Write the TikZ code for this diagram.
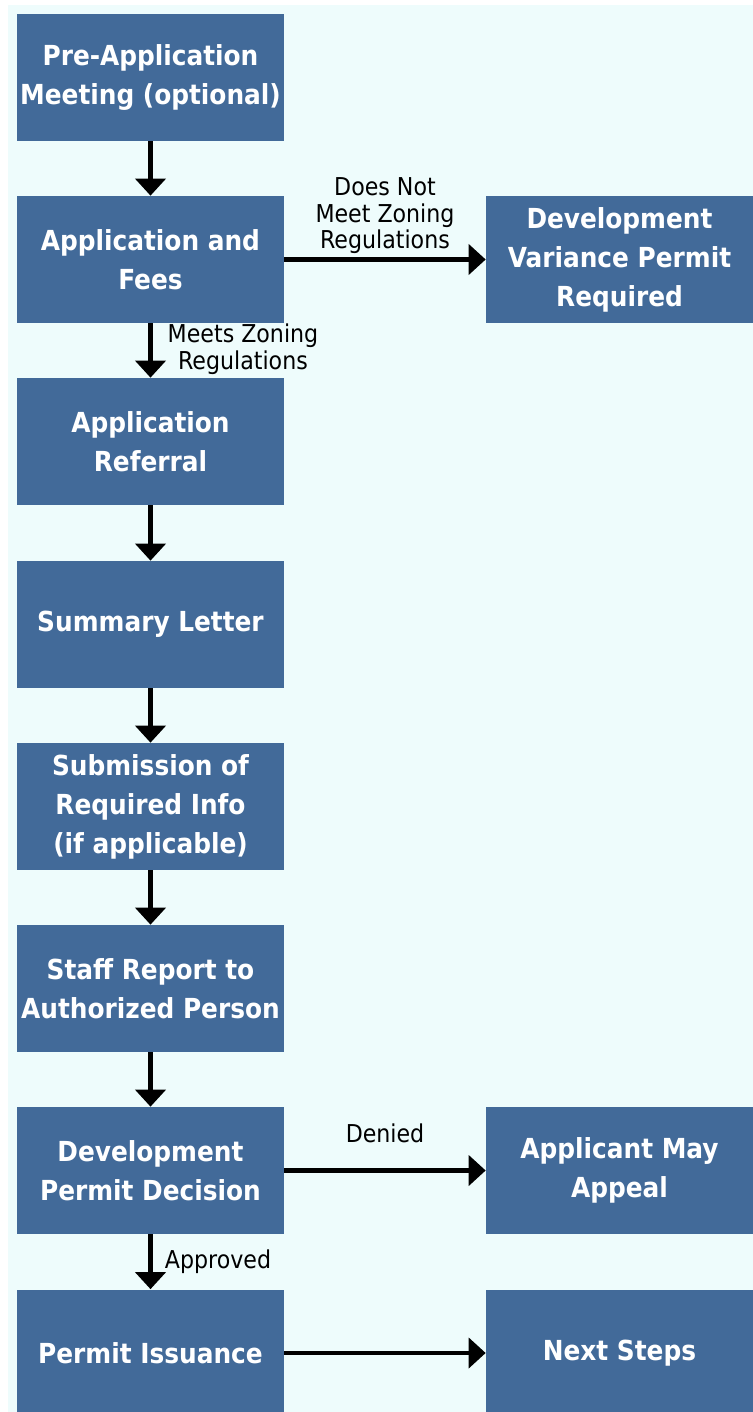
\documentclass[tikz,border=0pt]{standalone}
\usepackage{fontspec}
\setmainfont{DejaVu Sans Condensed}
\usetikzlibrary{arrows.meta}
\definecolor{boxblue}{RGB}{66,106,153}
\definecolor{paleback}{RGB}{238,252,252}
\begin{document}
\begin{tikzpicture}[x=0.02cm,y=-0.02cm,
	stepbox/.style={fill=boxblue, text=white, font=\bfseries\fontsize{15.7}{22.2}\selectfont, minimum width=5.34cm, minimum height=2.54cm, align=center, inner sep=0pt},
	flow/.style={line width=2.3pt, -{Triangle[width=0.6cm,length=0.34cm]}},
	lbl/.style={font=\fontsize{14}{15.1}\selectfont, align=center}]
	\useasboundingbox (0,0) rectangle (753,1412);
	\fill [paleback] (8,5) rectangle (753,1412);

	% main column
	\node [stepbox] (preapp) at (150.5,77.5) {Pre-Application\\Meeting (optional)};
	\node [stepbox] (appfees) at (150.5,259.5) {Application and\\Fees};
	\node [stepbox] (referral) at (150.5,441.5) {Application\\Referral};
	\node [stepbox] (summary) at (150.5,624.5) {Summary Letter};
	\node [stepbox] (submission) at (150.5,806.5) {Submission of\\Required Info\\(if applicable)};
	\node [stepbox] (staffrep) at (150.5,988.5) {Staff Report to\\Authorized Person};
	\node [stepbox] (decision) at (150.5,1170.5) {Development\\Permit Decision};
	\node [stepbox] (issuance) at (150.5,1353) {Permit Issuance};

	% side column
	\node [stepbox] (variance) at (619.5,259.5) {Development\\Variance Permit\\Required};
	\node [stepbox] (appeal) at (619.5,1170.5) {Applicant May\\Appeal};
	\node [stepbox] (nextsteps) at (619.5,1353) {Next Steps};

	\draw [flow] (preapp) -- (appfees);
	\draw [flow] (appfees) -- (referral);
	\draw [flow] (referral) -- (summary);
	\draw [flow] (summary) -- (submission);
	\draw [flow] (submission) -- (staffrep);
	\draw [flow] (staffrep) -- (decision);
	\draw [flow] (decision) -- (issuance);
	\draw [flow] (appfees) -- (variance);
	\draw [flow] (decision) -- (appeal);
	\draw [flow] (issuance) -- (nextsteps);

	\node [lbl] (notmeet) at (385,216) {Does Not\\Meet Zoning\\Regulations};
	\node [lbl] (meets) at (243,349) {Meets Zoning\\Regulations};
	\node [lbl] (denied) at (385,1133) {Denied};
	\node [lbl] (approved) at (218,1262) {Approved};
\end{tikzpicture}
\end{document}
